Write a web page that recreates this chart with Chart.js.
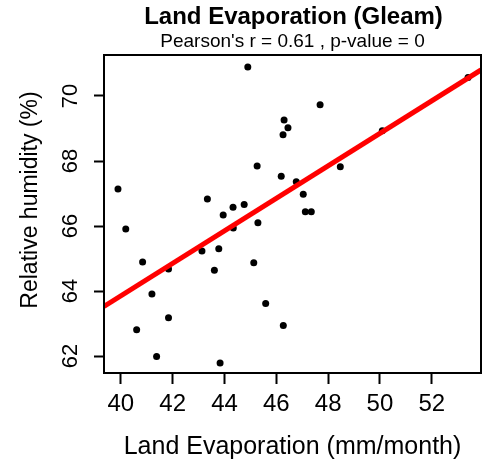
<!DOCTYPE html>
<html>
<head>
<meta charset="utf-8">
<script src="https://cdn.jsdelivr.net/npm/chart.js@4/dist/chart.umd.min.js"></script>
<style>
  html, body { margin: 0; padding: 0; background: #fff; }
  #wrap { width: 485px; height: 460px; }
</style>
</head>
<body>
<div id="wrap"><canvas id="myChart" width="485" height="460"></canvas></div>
<script>
var evap = [39.89, 40.19, 40.84, 40.61, 41.2, 41.38, 41.84, 41.84, 43.13, 43.34,
            43.61, 43.78, 43.83, 43.95, 44.33, 44.34, 44.76, 44.9, 45.13, 45.26,
            45.29, 45.59, 46.19, 46.27, 46.3, 46.26, 46.45, 47.69, 46.77, 47.04,
            47.12, 47.35, 48.47, 50.09, 53.4];
var humidity = [67.14, 65.91, 64.89, 62.81, 63.91, 61.99, 63.18, 64.68, 65.23, 66.83,
                64.64, 65.30, 61.79, 66.34, 66.58, 65.94, 66.66, 70.89, 64.87, 67.85,
                66.10, 63.62, 67.53, 62.94, 69.26, 68.81, 69.02, 69.73, 67.36, 66.98,
                66.44, 66.44, 67.82, 68.93, 70.57];

// fitted line as drawn (end points)
var fitX = [39.35, 53.9];
var fitY = [63.53, 70.8];

var xTicks = [40, 42, 44, 46, 48, 50, 52];
var yTicks = [62, 64, 66, 68, 70];

var FONT = "'Liberation Sans', Arial, sans-serif";

var points = evap.map(function(v, i){ return {x: v, y: humidity[i]}; });
var fitLine = fitX.map(function(v, i){ return {x: v, y: fitY[i]}; });

// title, box, y labels (R style)
var rStyle = {
  id: 'rStyle',
  afterDraw: function(chart) {
    var c = chart.ctx;
    var a = chart.chartArea;
    var y = chart.scales.y;
    c.save();
    c.strokeStyle = '#000';
    c.lineWidth = 2;
    c.strokeRect(a.left, a.top, a.right - a.left, a.bottom - a.top);

    c.fillStyle = '#000';
    c.textAlign = 'center';
    c.textBaseline = 'middle';
    var cx = (a.left + a.right) / 2;
    c.font = 'bold 24px ' + FONT;
    c.fillText('Land Evaporation (Gleam)', cx + 1, 17);
    c.font = '19px ' + FONT;
    c.fillText("Pearson's r = 0.61 , p-value = 0", cx, 42);

    c.font = '22px ' + FONT;
    yTicks.forEach(function(v){
      c.save();
      c.translate(71, y.getPixelForValue(v));
      c.rotate(-Math.PI / 2);
      c.fillText(String(v), 0, 0);
      c.restore();
    });

    c.font = '23px ' + FONT;
    c.save();
    c.translate(31, 200);
    c.rotate(-Math.PI / 2);
    c.fillText('Relative humidity (%)', 0, 0);
    c.restore();
    c.restore();
  }
};

var chart = new Chart(document.getElementById('myChart'), {
  type: 'scatter',
  data: {
    datasets: [{
      type: 'line',
      label: 'fit',
      data: fitLine,
      borderColor: '#ff0000',
      borderWidth: 5,
      pointRadius: 0,
      fill: false
    }, {
      label: 'points',
      data: points,
      backgroundColor: '#000',
      borderWidth: 0,
      pointRadius: 3.5
    }]
  },
  options: {
    responsive: false,
    animation: false,
    layout: { padding: { top: 55, right: 1, left: 0, bottom: 0 } },
    plugins: {
      legend: { display: false },
      tooltip: { enabled: false }
    },
    scales: {
      x: {
        type: 'linear',
        min: 39.35,
        max: 53.9,
        afterBuildTicks: function(s){ s.ticks = xTicks.map(function(v){ return {value: v}; }); },
        afterFit: function(s){ s.height = 87; },
        ticks: { color: '#000', font: { family: FONT, size: 24 }, padding: 6, maxRotation: 0 },
        grid: { drawOnChartArea: false, drawTicks: true, tickLength: 11, tickWidth: 2, tickColor: '#000' },
        border: { display: false },
        title: {
          display: true,
          text: 'Land Evaporation (mm/month)',
          color: '#000',
          font: { family: FONT, size: 25 },
          padding: { top: 6, bottom: -2 }
        }
      },
      y: {
        type: 'linear',
        min: 61.48,
        max: 71.26,
        afterBuildTicks: function(s){ s.ticks = yTicks.map(function(v){ return {value: v}; }); },
        afterFit: function(s){ s.width = 104; },
        ticks: { display: false },
        grid: { drawOnChartArea: false, drawTicks: true, tickLength: 10, tickWidth: 2, tickColor: '#000' },
        border: { display: false }
      }
    }
  },
  plugins: [rStyle]
});
</script>
</body>
</html>
